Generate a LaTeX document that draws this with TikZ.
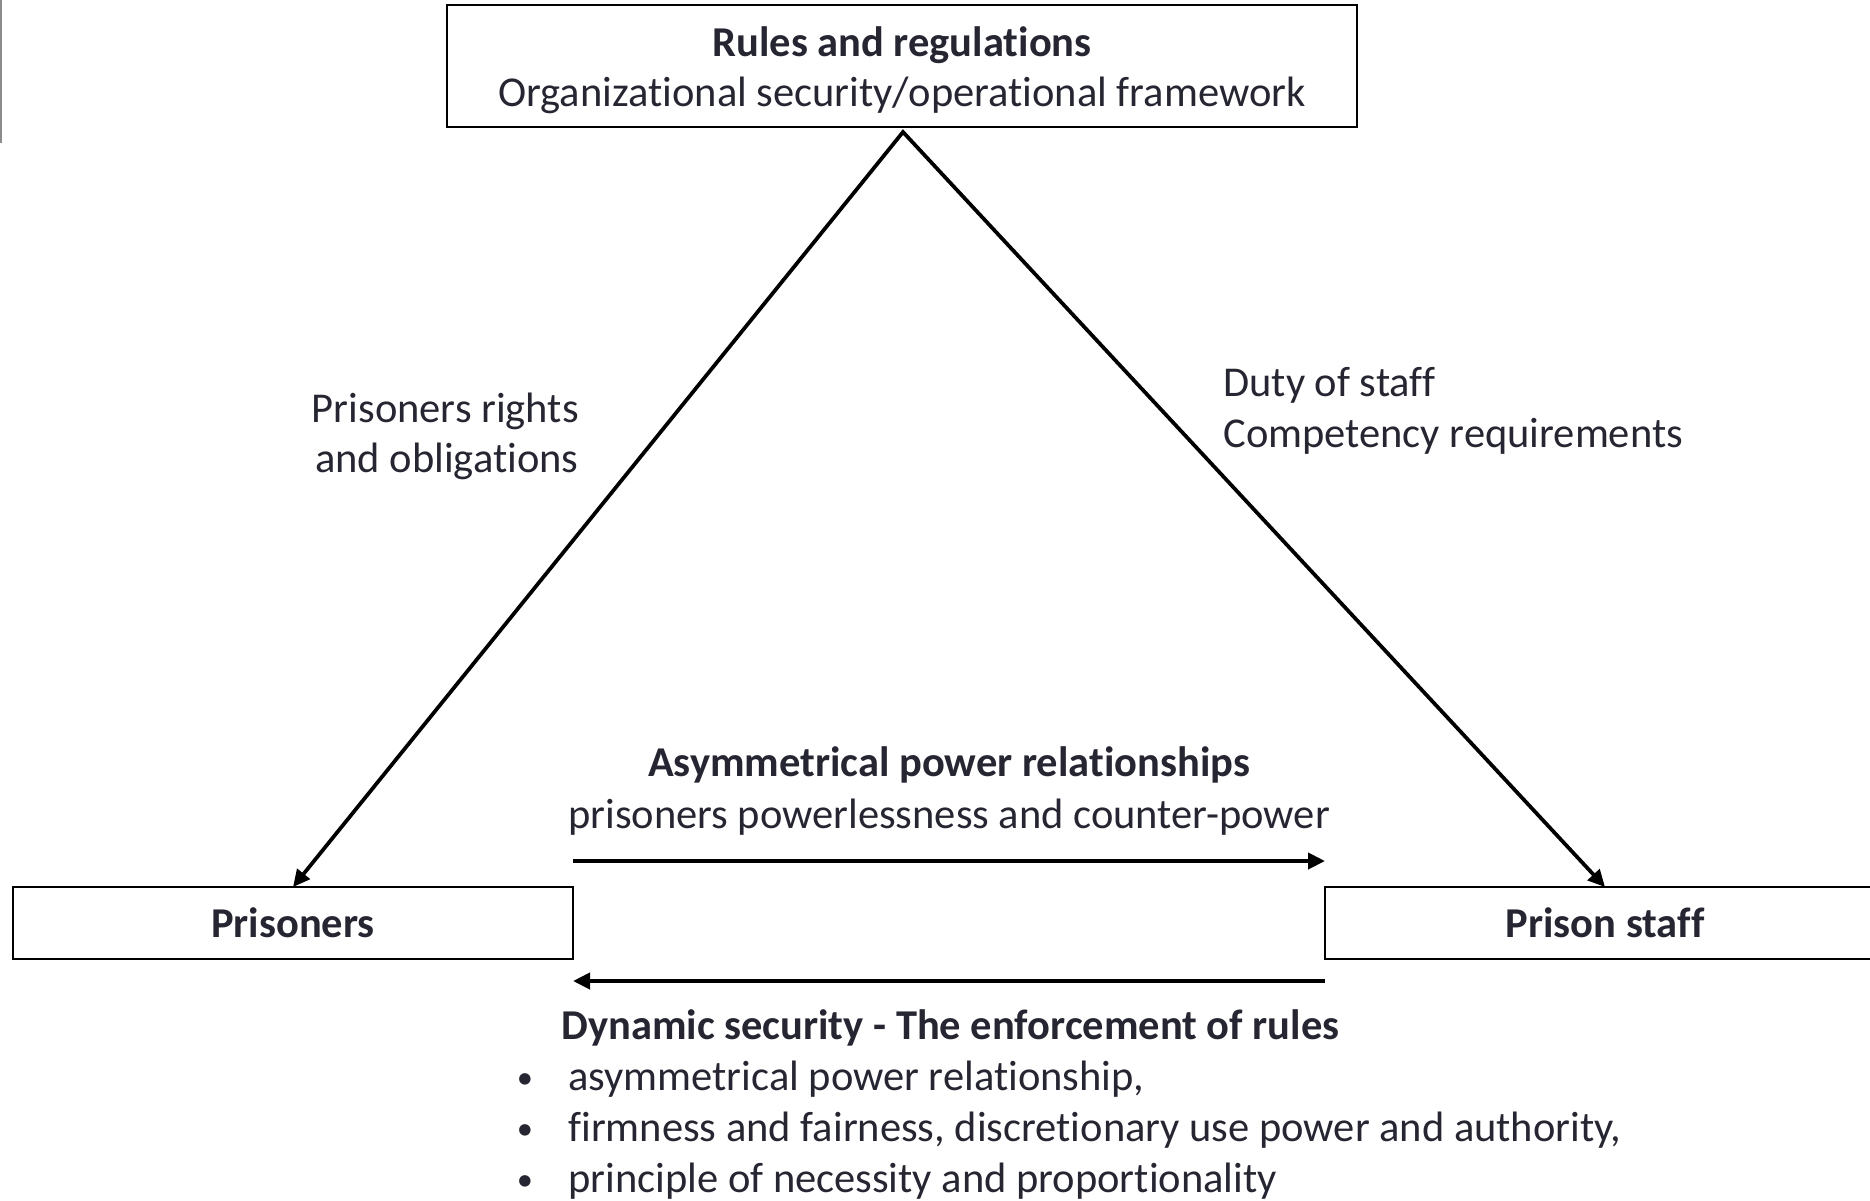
\documentclass[tikz,border=0pt]{standalone}
\usepackage{fontspec}
\setmainfont{Carlito}[Ligatures={NoCommon}]
\usetikzlibrary{arrows.meta,calc}

\definecolor{txtgray}{RGB}{38,38,50}

\begin{document}
\begin{tikzpicture}[x=0.4pt,y=0.4pt,yscale=-1,xscale=1,
		every node/.style={font=\fontsize{17pt}{20pt}\selectfont, text=txtgray},
		box/.style={draw=black, line width=0.9pt, inner sep=0pt, outer sep=0pt},
		link/.style={line width=1.5pt, line join=miter, {Triangle[length=6.8pt,width=6.4pt]}-{Triangle[length=6.8pt,width=6.4pt]}},
		flow/.style={line width=1.6pt, -{Triangle[length=6.8pt,width=6.4pt]}},
		dot/.style={font=\fontsize{13pt}{15pt}\selectfont, anchor=base, inner sep=0.75pt}]
	\useasboundingbox (0,0) rectangle (1870,1200);

	%Straight Lines (edge of the slide)
	\draw [color={rgb, 255:red, 140; green, 140; blue, 140 }, line width=0.5pt] (1,0) -- (1,143) ;

	%Shape: Rectangle [top]
	\node (rules) at (902,66) [box, minimum width=364pt, minimum height=48.8pt] {};
	\node (rulestxt) at (902,70) [align=center, inner sep=0pt]
		{\textbf{Rules and regulations}\\Organizational security/operational framework};
	%Shape: Rectangle [left]
	\node (prisoners) at (293,923) [box, minimum width=224pt, minimum height=28.8pt] {\textbf{Prisoners}};
	%Shape: Rectangle [right]
	\node (staff) at (1605,923) [box, minimum width=224pt, minimum height=28.8pt] {\textbf{Prison staff}};

	\coordinate (apex) at (903,132);

	%Straight Lines [sides of the triangle]
	\draw [link] (prisoners.north) -- (apex) -- (staff.north) ;
	%Straight Lines [power relations]
	\draw [flow] ($(prisoners.north east)+(0,-26)$) -- ($(staff.north west)+(0,-26)$) ;
	\draw [flow] ($(staff.south west)+(0,22)$) -- ($(prisoners.south east)+(0,22)$) ;

	% Text Node
	\draw (581,422) node (rights1) [anchor=base east][inner sep=0.75pt] {Prisoners rights};
	% Text Node
	\draw (581,472) node (rights2) [anchor=base east][inner sep=0.75pt] {and obligations};
	% Text Node
	\draw (1221,396) node (duty1) [anchor=base west][inner sep=0.75pt] {Duty of staff};
	% Text Node
	\draw (1221,447) node (duty2) [anchor=base west][inner sep=0.75pt] {Competency requirements};
	% Text Node
	\draw (949,776) node (asym1) [anchor=base][inner sep=0.75pt] {\textbf{Asymmetrical power relationships}};
	% Text Node
	\draw (949,828) node (asym2) [anchor=base][inner sep=0.75pt] {prisoners powerlessness and counter-power};
	% Text Node
	\draw (559,1039) node (dyn) [anchor=base west][inner sep=0.75pt] {\textbf{Dynamic security - The enforcement of rules}};
	% Text Node
	\draw (525,1088) node (b1) [dot] {•};
	\draw (566,1090) node (item1) [anchor=base west][inner sep=0.75pt] {asymmetrical power relationship,};
	% Text Node
	\draw (525,1139) node (b2) [dot] {•};
	\draw (566,1141) node (item2) [anchor=base west][inner sep=0.75pt] {firmness and fairness, discretionary use power and authority,};
	% Text Node
	\draw (525,1190) node (b3) [dot] {•};
	\draw (566,1192) node (item3) [anchor=base west][inner sep=0.75pt] {principle of necessity and proportionality};

\end{tikzpicture}
\end{document}
